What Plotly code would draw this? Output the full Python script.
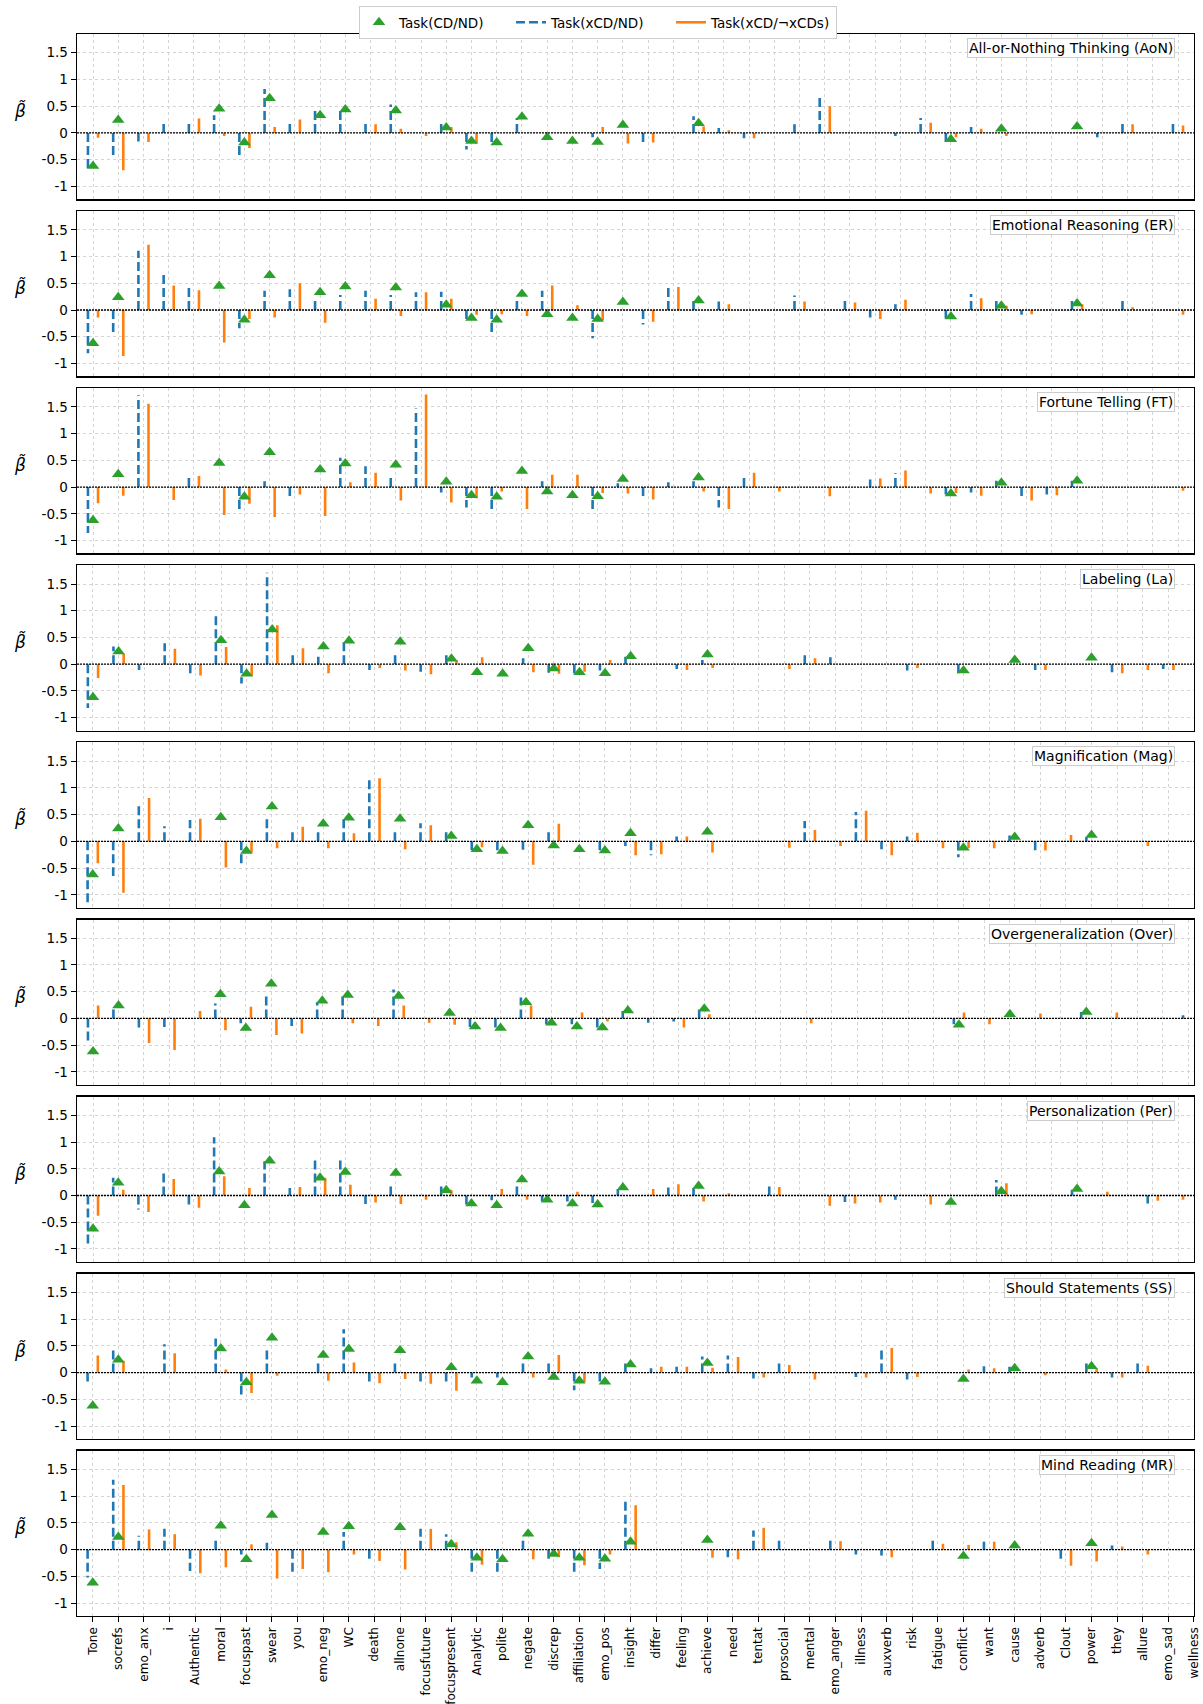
import plotly.graph_objects as go

N = None
features = ["Tone", "socrefs", "emo_anx", "i", "Authentic", "moral", "focuspast", "swear", "you", "emo_neg",
            "WC", "death", "allnone", "focusfuture", "focuspresent", "Analytic", "polite", "negate", "discrep", "affiliation",
            "emo_pos", "insight", "differ", "feeling", "achieve", "need", "tentat", "prosocial", "mental", "emo_anger",
            "illness", "auxverb", "risk", "fatigue", "conflict", "want", "cause", "adverb", "Clout", "power",
            "they", "allure", "emo_sad", "wellness"]

# Task(CD/ND) -- identical in every panel
task_cd_nd = [-0.62, 0.24, N, N, N, 0.45, -0.18, 0.65, N, 0.33,
              0.44, N, 0.42, N, 0.10, -0.15, -0.18, 0.30, -0.08, -0.15,
              -0.17, 0.15, N, N, 0.18, N, N, N, N, N,
              N, N, N, N, -0.12, N, 0.08, N, N, 0.12,
              N, N, N, N]

aon_xcd_nd = [-0.69, -0.42, -0.16, 0.17, 0.19, 0.33, -0.44, 0.82, 0.19, 0.44,
              0.42, 0.19, 0.53, N, 0.19, -0.31, -0.19, 0.28, N, N,
              -0.08, N, -0.18, N, 0.31, 0.09, -0.10, N, 0.16, 0.69,
              N, N, -0.06, 0.28, -0.18, 0.11, N, N, N, N,
              -0.08, 0.18, N, 0.18]
aon_xcd_not = [-0.09, -0.70, -0.17, N, 0.27, -0.06, -0.28, 0.11, 0.25, N,
               N, 0.16, 0.08, -0.06, 0.11, -0.20, N, N, N, N,
               0.11, -0.20, -0.18, N, 0.12, 0.05, -0.10, N, N, 0.50,
               N, N, N, 0.19, -0.08, 0.08, -0.06, N, N, N,
               N, 0.16, N, 0.14]

er_xcd_nd = [-0.81, -0.44, 1.11, 0.70, 0.42, N, -0.34, 0.36, 0.39, 0.20,
             0.28, 0.36, 0.28, 0.33, 0.34, -0.18, -0.43, 0.17, 0.36, N,
             -0.53, N, -0.27, 0.42, 0.17, 0.16, N, N, 0.27, N,
             0.17, -0.14, 0.11, N, -0.16, 0.30, 0.17, -0.09, N, 0.17,
             N, 0.17, N, N]
er_xcd_not = [-0.14, -0.86, 1.22, 0.46, 0.37, -0.61, -0.17, -0.14, 0.50, -0.24,
              N, 0.21, -0.11, 0.33, 0.21, -0.09, -0.08, -0.11, 0.46, 0.09,
              -0.19, N, -0.22, 0.43, N, 0.11, N, N, 0.16, N,
              0.14, -0.17, 0.19, N, N, 0.22, 0.08, -0.08, N, 0.11,
              N, 0.05, N, -0.09]

ft_xcd_nd = [-0.86, N, 1.72, N, 0.18, N, -0.44, 0.11, -0.17, N,
             0.55, 0.39, 0.18, 1.47, -0.10, -0.38, -0.44, N, 0.11, N,
             -0.44, 0.07, -0.18, 0.09, 0.11, -0.38, 0.18, N, N, N,
             N, 0.14, 0.26, N, -0.14, -0.10, 0.12, -0.18, -0.14, 0.12,
             N, N, N, N]
ft_xcd_not = [-0.30, -0.16, 1.56, -0.24, 0.21, -0.52, -0.31, -0.56, -0.14, -0.54,
              0.09, 0.27, -0.25, 1.73, -0.29, -0.21, -0.08, -0.41, 0.23, 0.23,
              -0.11, -0.12, -0.23, N, -0.08, -0.41, 0.27, -0.08, N, -0.17,
              N, 0.16, 0.31, -0.12, -0.11, -0.16, N, -0.25, -0.15, N,
              N, N, N, -0.07]

la_xcd_nd = [-0.82, 0.33, -0.11, 0.39, -0.17, 0.94, -0.36, 1.71, 0.17, 0.14,
             0.42, -0.11, 0.17, -0.14, 0.17, N, N, 0.11, -0.16, -0.17,
             -0.12, 0.14, N, -0.09, 0.08, N, N, N, 0.17, 0.13,
             N, N, -0.12, N, -0.17, N, N, -0.11, N, N,
             -0.15, N, -0.09, N]
la_xcd_not = [-0.26, 0.19, N, 0.29, -0.21, 0.32, -0.22, 0.73, 0.30, -0.17,
              N, -0.07, -0.12, -0.19, 0.08, 0.13, N, -0.15, -0.18, -0.14,
              0.08, N, N, -0.11, -0.07, N, N, -0.09, 0.11, N,
              N, N, -0.07, N, N, N, N, -0.11, N, N,
              -0.17, -0.11, -0.11, N]

mag_xcd_nd = [-1.18, -0.65, 0.68, 0.28, 0.40, N, -0.43, 0.44, 0.17, 0.20,
              0.43, 1.14, 0.17, 0.34, 0.17, -0.18, -0.19, -0.16, 0.17, N,
              -0.18, -0.09, -0.26, 0.09, N, N, N, N, 0.38, N,
              0.55, -0.15, 0.09, N, -0.30, N, 0.11, -0.17, N, 0.08,
              N, N, N, N]
mag_xcd_not = [-0.41, -0.96, 0.81, N, 0.42, -0.49, -0.21, -0.13, 0.27, -0.13,
               0.15, 1.18, -0.15, 0.30, N, -0.11, N, -0.44, 0.33, N,
               N, -0.26, -0.24, 0.09, -0.21, N, N, -0.12, 0.21, -0.09,
               0.57, -0.26, 0.16, -0.13, -0.13, -0.13, N, -0.17, 0.12, N,
               N, -0.09, N, N]

over_xcd_nd = [-0.44, 0.17, -0.17, -0.16, N, 0.28, -0.09, 0.44, -0.14, 0.30,
               0.44, N, 0.54, N, N, -0.16, -0.17, 0.39, -0.11, -0.11,
               -0.17, 0.14, -0.08, -0.06, 0.19, N, N, N, N, N,
               N, N, N, N, -0.11, N, N, N, N, 0.12,
               N, N, N, 0.06]
over_xcd_not = [0.24, N, -0.46, -0.59, 0.14, -0.22, 0.22, -0.31, -0.28, N,
                -0.09, -0.14, 0.24, -0.08, -0.12, N, N, 0.24, N, 0.11,
                -0.06, N, N, -0.17, 0.08, N, N, N, -0.09, N,
                N, N, N, N, 0.11, -0.11, N, 0.09, N, N,
                0.11, N, N, N]

per_xcd_nd = [-0.94, 0.33, -0.26, 0.45, -0.18, 1.09, N, 0.64, 0.14, 0.69,
              0.69, -0.16, 0.17, N, 0.17, -0.18, -0.09, 0.17, -0.11, -0.11,
              -0.14, 0.12, N, 0.15, 0.14, N, N, 0.18, N, N,
              -0.12, N, -0.08, N, N, N, 0.29, N, N, 0.11,
              N, N, -0.15, N]
per_xcd_not = [-0.38, 0.11, -0.31, 0.31, -0.23, 0.36, 0.14, N, 0.16, 0.33,
               0.20, -0.13, -0.16, -0.08, 0.11, N, 0.12, -0.08, N, 0.07,
               N, N, 0.12, 0.21, -0.11, 0.04, N, 0.16, N, -0.19,
               -0.15, -0.13, N, -0.17, N, N, 0.23, N, N, N,
               0.07, N, -0.10, -0.08]

ss_xcd_nd = [-0.18, 0.44, N, 0.53, N, 0.64, -0.44, 0.44, N, 0.17,
             0.81, -0.18, 0.17, -0.18, -0.18, -0.09, -0.09, 0.17, 0.17, -0.33,
             -0.18, 0.17, 0.08, 0.11, 0.30, 0.32, -0.11, 0.17, N, N,
             -0.08, 0.44, -0.13, N, N, 0.12, 0.11, N, N, 0.17,
             -0.09, 0.17, N, N]
ss_xcd_not = [0.32, 0.22, N, 0.36, N, 0.06, -0.38, -0.06, N, -0.15,
              0.19, -0.20, -0.12, -0.21, -0.34, N, N, -0.09, 0.33, -0.18,
              N, N, 0.11, 0.11, 0.09, 0.29, -0.09, 0.14, -0.13, N,
              -0.09, 0.46, -0.08, N, 0.06, 0.08, N, -0.05, N, 0.08,
              -0.09, 0.13, N, N]

mr_xcd_nd = [-0.52, 1.31, 0.26, 0.39, -0.40, 0.18, -0.09, 0.13, -0.42, N,
             0.33, -0.18, N, 0.39, 0.29, -0.44, -0.44, 0.18, -0.17, -0.44,
             -0.36, 0.94, N, N, N, -0.14, 0.36, 0.18, N, 0.18,
             -0.09, -0.11, N, 0.18, N, 0.15, N, N, -0.17, N,
             0.08, N, N, N]
mr_xcd_not = [N, 1.21, 0.38, 0.29, -0.44, -0.33, 0.10, -0.54, -0.36, -0.42,
              -0.09, -0.21, -0.37, 0.39, 0.14, -0.28, N, -0.18, -0.14, -0.29,
              -0.09, 0.83, N, N, -0.15, -0.18, 0.41, N, N, 0.16,
              N, -0.14, N, 0.11, 0.09, 0.15, N, N, -0.30, -0.22,
              0.06, -0.09, N, N]

panel_titles = ["All-or-Nothing Thinking (AoN)", "Emotional Reasoning (ER)", "Fortune Telling (FT)",
                "Labeling (La)", "Magnification (Mag)", "Overgeneralization (Over)",
                "Personalization (Per)", "Should Statements (SS)", "Mind Reading (MR)"]
panel_blue = [aon_xcd_nd, er_xcd_nd, ft_xcd_nd, la_xcd_nd, mag_xcd_nd, over_xcd_nd, per_xcd_nd, ss_xcd_nd, mr_xcd_nd]
panel_orange = [aon_xcd_not, er_xcd_not, ft_xcd_not, la_xcd_not, mag_xcd_not, over_xcd_not, per_xcd_not, ss_xcd_not, mr_xcd_not]

y_ticks = [-1, -0.5, 0, 0.5, 1, 1.5]
y_ticktext = ["-1", "-0.5", "0", "0.5", "1", "1.5"]

# ---------------------------------------------------------------- styling
BLUE, ORANGE, GREEN = "#1f77b4", "#ff7f0e", "#2ca02c"
OFF = 0.2
FONT = "DejaVu Sans"
W, H = 1203, 1704
ML, MR_, MT, MB = 77, 9, 34, 88
PH = H - MT - MB
PW = W - ML - MR_
n_panels = len(panel_titles)
pitch = PH / (n_panels - 1 + 165.2 / 177.1)
panel_h = pitch * 165.2 / 177.1
PAD = "\u00a0" * 5


def stems(values, offset):
    xs, ys = [], []
    for i, v in enumerate(values):
        if v is None:
            continue
        xs += [i + offset, i + offset, None]
        ys += [0, v, None]
    return xs, ys


fig = go.Figure()
layout = dict()
annotations, shapes = [], []

for k in range(n_panels):
    n = "" if k == 0 else str(k + 1)
    xa, ya = "x" + n, "y" + n
    blue, orange = panel_blue[k], panel_orange[k]

    bx, by = stems(blue, -OFF)
    ox, oy = stems(orange, OFF)
    tx = [i for i, v in enumerate(task_cd_nd) if v is not None]
    ty = [v for v in task_cd_nd if v is not None]

    fig.add_trace(go.Scatter(x=bx, y=by, mode="lines", xaxis=xa, yaxis=ya,
                             line=dict(color=BLUE, width=2.6, dash="9px,4px"),
                             name="Task(xCD/ND)" + PAD, legendgroup="b", legendrank=2,
                             showlegend=(k == 0), hoverinfo="skip"))
    fig.add_trace(go.Scatter(x=ox, y=oy, mode="lines", xaxis=xa, yaxis=ya,
                             line=dict(color=ORANGE, width=2.6),
                             name="Task(xCD/¬xCDs)", legendgroup="o", legendrank=3,
                             showlegend=(k == 0), hoverinfo="skip"))
    fig.add_trace(go.Scatter(x=tx, y=ty, mode="markers", xaxis=xa, yaxis=ya,
                             marker=dict(symbol="triangle-up", size=11, color=GREEN,
                                         line=dict(width=0)),
                             name="Task(CD/ND)" + PAD, legendgroup="t", legendrank=1,
                             showlegend=(k == 0)))

    # x-limits: data extent with 1% margin, expanded so that every tick is visible
    pos = [x for x in bx + ox + tx if x is not None]
    lo, hi = min(pos), max(pos)
    m = 0.01 * (hi - lo)
    lo, hi = min(lo - m, 0), max(hi + m, len(features) - 1 + 0.002)

    top = min(1.0, max(0.0, 1 - (k * pitch) / PH))
    bot = min(1.0, max(0.0, top - panel_h / PH))
    last = (k == n_panels - 1)

    layout["xaxis" + n] = dict(
        domain=[0, 1], anchor=ya, range=[lo, hi], automargin=False,
        tickmode="array", tickvals=list(range(len(features))), ticktext=features,
        showticklabels=last, tickangle=-90, ticks="outside" if last else "",
        ticklen=5, tickcolor="black", tickwidth=1, ticklabeloverflow="allow",
        tickfont=dict(family=FONT, size=12, color="black"),
        showgrid=True, gridcolor="#d4d4d4", griddash="dot", gridwidth=1,
        showline=True, mirror=True, linecolor="black", linewidth=1.4, zeroline=False)
    layout["yaxis" + n] = dict(
        domain=[bot, top], anchor=xa, range=[-1.24, 1.85], automargin=False,
        tickmode="array", tickvals=y_ticks, ticktext=y_ticktext,
        ticks="outside", ticklen=5, tickcolor="black", tickwidth=1,
        tickfont=dict(family=FONT, size=13.5, color="black"),
        showgrid=True, gridcolor="#d4d4d4", griddash="dot", gridwidth=1,
        showline=True, mirror=True, linecolor="black", linewidth=1.4, zeroline=False)

    shapes.append(dict(type="line", xref=xa + " domain", x0=0, x1=1, yref=ya, y0=0, y1=0,
                       line=dict(color="black", width=1.3, dash="2px,1px"), layer="above"))

    annotations.append(dict(text=panel_titles[k], xref="paper", yref="paper",
                            x=1 - 19 / PW, y=top - 4 / PH,
                            xanchor="right", yanchor="top", showarrow=False,
                            font=dict(family=FONT, size=14, color="black"),
                            bgcolor="white", bordercolor="#cccccc", borderwidth=1, borderpad=1))
    annotations.append(dict(text="<i>β̃</i>", xref="paper", yref="paper",
                            x=(20 - ML) / PW, y=(top + bot) / 2 + 6 / PH,
                            xanchor="center", yanchor="middle", showarrow=False,
                            font=dict(family=FONT, size=17, color="black")))

fig.update_layout(
    width=W, height=H,
    margin=dict(l=ML, r=MR_, t=MT, b=MB, pad=0, autoexpand=False),
    paper_bgcolor="white", plot_bgcolor="white",
    font=dict(family=FONT, size=13, color="black"),
    legend=dict(orientation="h", x=(598 - ML) / PW, xanchor="center",
                y=1 + (MT - 6) / PH, yanchor="top",
                bordercolor="#cccccc", borderwidth=1, bgcolor="white",
                font=dict(family=FONT, size=13.5, color="black")),
    annotations=annotations, shapes=shapes,
    **layout)

fig.write_html("out.html",
               config={"displayModeBar": False, "staticPlot": True},
               post_script="document.body.style.margin='0px';document.body.style.overflow='hidden';")
